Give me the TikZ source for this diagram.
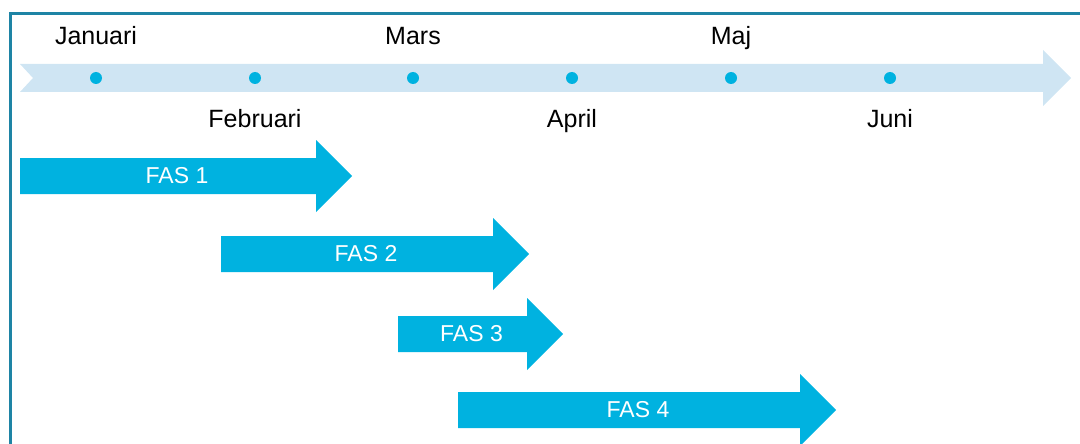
\documentclass[tikz,border=0pt]{standalone}
\usepackage{fontspec}
\setmainfont{Liberation Sans}
\usetikzlibrary{positioning}
\definecolor{bandblue}{RGB}{207,229,243}
\definecolor{fasblue}{RGB}{0,178,224}
\definecolor{frameteal}{RGB}{30,132,165}
\tikzset{
  month/.style={font=\fontsize{25}{28}\selectfont, text=black, anchor=base},
  dot/.style={circle, fill=fasblue, inner sep=0pt, minimum size=12pt},
  phase/.style={fill=fasblue},
  phaselabel/.style={font=\fontsize{23}{26}\selectfont, text=white},
}
\begin{document}
\begin{tikzpicture}[x=1pt, y=-1pt]
    \useasboundingbox (0,0) rectangle (1080,444);

    % frame
    \draw [frameteal, line width=3pt] (10,446) -- (10,14) -- (1082,14);

    % timeline band
    \fill [bandblue] (20,64) -- (1043,64) -- (1043,50) -- (1071,78)
        -- (1043,106) -- (1043,92) -- (20,92) -- (33,78) -- cycle;

    % dots and months
    \foreach \i/\x/\m/\yb in {1/96/Januari/45, 2/255/Februari/128, 3/413/Mars/45,
                              4/572/April/128, 5/731/Maj/45, 6/890/Juni/128} {
      \node [dot] (d\i) at (\x,78) {};
      \node [month] (m\i) at (\x,\yb) {\m};
    }

    % phases
    \foreach \n/\xa/\xb/\yc in {1/20/316/176, 2/221/493/254, 3/398/527/334, 4/458/800/410} {
      \fill [phase] (\xa,{\yc-18}) -- (\xb,{\yc-18}) -- (\xb,{\yc-36}) -- ({\xb+36},\yc)
          -- (\xb,{\yc+36}) -- (\xb,{\yc+18}) -- (\xa,{\yc+18}) -- cycle;
      \node [phaselabel] (fas\n) at ({(\xa+\xb)/2+9},\yc) {FAS \n};
    }
\end{tikzpicture}
\end{document}
